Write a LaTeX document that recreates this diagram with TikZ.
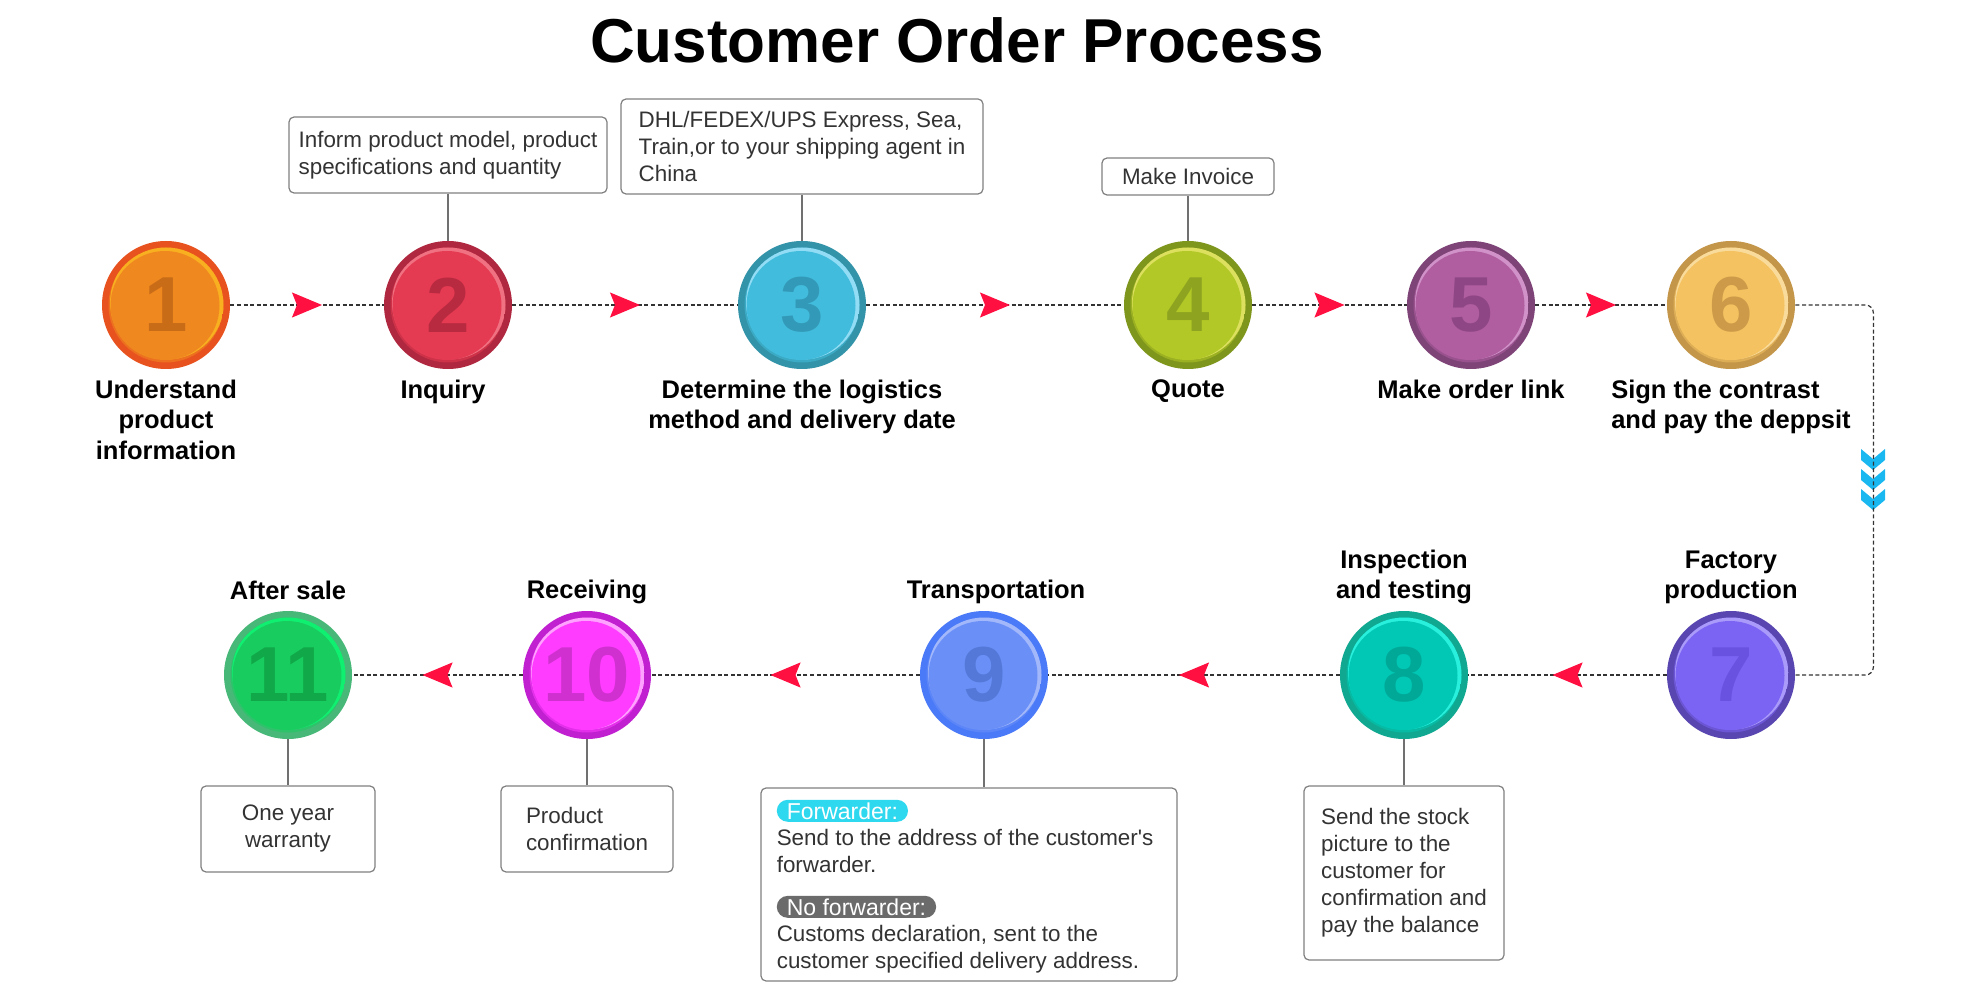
\documentclass[tikz,border=0pt]{standalone}
\usepackage{fontspec}
\setmainfont{Liberation Sans}
\usepackage{xcolor}
\usetikzlibrary{positioning}
\usetikzlibrary{arrows.meta}
\usetikzlibrary{decorations.markings}

% badge colours: ring, fill, highlight, number
\definecolor{ring1}{HTML}{E8521E}\definecolor{fill1}{HTML}{F08820}\definecolor{hi1}{HTML}{F8B020}\definecolor{num1}{HTML}{C86C18}
\definecolor{ring2}{HTML}{B0283F}\definecolor{fill2}{HTML}{E43A52}\definecolor{hi2}{HTML}{F07282}\definecolor{num2}{HTML}{B82A40}
\definecolor{ring3}{HTML}{3393A8}\definecolor{fill3}{HTML}{42BCDC}\definecolor{hi3}{HTML}{92DDF5}\definecolor{num3}{HTML}{3399B8}
\definecolor{ring4}{HTML}{7E961C}\definecolor{fill4}{HTML}{B2C826}\definecolor{hi4}{HTML}{DCE05E}\definecolor{num4}{HTML}{8EA420}
\definecolor{ring5}{HTML}{7E4478}\definecolor{fill5}{HTML}{B05EA0}\definecolor{hi5}{HTML}{D092C8}\definecolor{num5}{HTML}{8E4684}
\definecolor{ring6}{HTML}{C4964A}\definecolor{fill6}{HTML}{F4C260}\definecolor{hi6}{HTML}{F9DC9C}\definecolor{num6}{HTML}{CC9A48}
\definecolor{ring7}{HTML}{5A46B0}\definecolor{fill7}{HTML}{7B64F4}\definecolor{hi7}{HTML}{AA9AFA}\definecolor{num7}{HTML}{6A52E0}
\definecolor{ring8}{HTML}{10A890}\definecolor{fill8}{HTML}{00C8B4}\definecolor{hi8}{HTML}{28F0DC}\definecolor{num8}{HTML}{00A898}
\definecolor{ring9}{HTML}{4A7AF8}\definecolor{fill9}{HTML}{6A90F8}\definecolor{hi9}{HTML}{A2B8FA}\definecolor{num9}{HTML}{5478D8}
\definecolor{ring10}{HTML}{C020D0}\definecolor{fill10}{HTML}{FF3CFF}\definecolor{hi10}{HTML}{FFA2FF}\definecolor{num10}{HTML}{D030D0}
\definecolor{ring11}{HTML}{48B878}\definecolor{fill11}{HTML}{18CC60}\definecolor{hi11}{HTML}{10F070}\definecolor{num11}{HTML}{10A848}

\definecolor{arrowred}{HTML}{FF1040}
\definecolor{flowgray}{HTML}{333333}
\definecolor{linkgray}{HTML}{707070}
\definecolor{boxgray}{HTML}{808080}
\definecolor{notetext}{HTML}{333333}
\definecolor{chevblue}{HTML}{1AB8F0}
\definecolor{fwdcyan}{HTML}{2ED8EE}
\definecolor{pillgray}{HTML}{6B6B6B}

\newcommand{\titlefont}{\fontsize{31pt}{36pt}\selectfont\bfseries}
\newcommand{\lblfont}{\fontsize{12.75pt}{15.2pt}\selectfont\bfseries}
\newcommand{\notefont}{\fontsize{11.2pt}{13.5pt}\selectfont}
\newcommand{\numfont}{\fontsize{39pt}{40pt}\selectfont\bfseries}

\begin{document}
\begin{tikzpicture}[
  x=0.5pt, y=-0.5pt,
  badge/.style={circle, minimum size=64pt, inner sep=0pt},
  lbl/.style={font=\lblfont, align=center, inner sep=1pt},
  note/.style={draw=boxgray, line width=0.6pt, rounded corners=2.5pt, font=\notefont, text=notetext, align=left},
  notetxt/.style={anchor=north west, inner sep=0pt, font=\notefont, text=notetext, align=left},
  pill/.style={anchor=north west, rounded corners=5.5pt, minimum height=11pt, inner xsep=5pt, inner ysep=0pt, font=\fontsize{11.5pt}{13pt}\selectfont, text=white},
  link/.style={draw=linkgray, line width=0.6pt},
  flowline/.style={draw=flowgray, line width=0.6pt, dash pattern=on 2pt off 1.3pt},
  flow/.style={flowline, postaction={decorate}, decoration={markings,
    mark=at position 0.5 with {\arrow[xshift=7.5pt]{Stealth[length=15pt, width=12.5pt, inset=2.5pt, arrowred]}}}}
]
\fill[white] (0,0) rectangle (1983,1000);
\useasboundingbox (0,0) rectangle (1983,1000);

% Title
\node[font=\titlefont] (title) at (957,40) {Customer Order Process};

% Numbered badges
\foreach \n/\x/\y in {1/166/305, 2/448/305, 3/802/305, 4/1188/305, 5/1471/305, 6/1731/305,
                      7/1731/675, 8/1404/675, 9/984/675, 10/587/675, 11/288/675} {
  \node[badge, fill=ring\n] (c\n) at (\x,\y) {};
  \begin{scope}
    \clip (c\n.center) circle (57.5);
    \fill[ring\n!45!fill\n] (c\n.center) circle (57.5);
    \fill[hi\n] ([shift={(1,-2.5)}]c\n.center) circle (57);
    \fill[fill\n] ([shift={(-1,0.5)}]c\n.center) circle (54.5);
  \end{scope}
  \node[font=\numfont, text=num\n, inner sep=0pt] (n\n) at (c\n) {\n};
}

% Step labels
\node[lbl, below=4pt of c1] (l1) {Understand\\product\\information};
\node[lbl, below=4pt of c2, xshift=-2.5pt] (l2) {Inquiry};
\node[lbl, below=4pt of c3] (l3) {Determine the logistics\\method and delivery date};
\node[lbl, below=4pt of c4] (l4) {Quote};
\node[lbl, below=4pt of c5] (l5) {Make order link};
\node[lbl, align=left, below=4pt of c6] (l6) {Sign the contrast\\and pay the deppsit};
\node[lbl, above=2pt of c7] (l7) {Factory\\production};
\node[lbl, above=2pt of c8] (l8) {Inspection\\and testing};
\node[lbl, above=2pt of c9, xshift=6pt] (l9) {Transportation};
\node[lbl, above=2pt of c10] (l10) {Receiving};
\node[lbl, above=4pt of c11] (l11) {After sale};

% Callout boxes
\node[note, minimum width=159pt, minimum height=38pt, above=23.5pt of c2] (b2)
  {Inform product model, product\\specifications and quantity};
\node[note, minimum width=181pt, minimum height=47.5pt, above=23pt of c3] (b3)
  {DHL/FEDEX/UPS Express, Sea,\\Train,or to your shipping agent in\\China};
\node[note, align=center, minimum width=86pt, minimum height=18.5pt, above=22.5pt of c4] (b4) {Make Invoice};
\node[note, align=center, minimum width=87pt, minimum height=43pt, below=23pt of c11] (b11) {One year\\warranty};
\node[note, minimum width=86pt, minimum height=43pt, below=23pt of c10] (b10) {Product\\confirmation};
\node[note, minimum width=100pt, minimum height=87pt, below=23pt of c8] (b8)
  {Send the stock\\picture to the\\customer for\\confirmation and\\pay the balance};
\node[note, minimum width=208pt, minimum height=96.5pt, below=24pt of c9, xshift=-7.5pt] (b9) {};
\node[pill, fill=fwdcyan] (p1) at ([xshift=8pt, yshift=-6pt]b9.north west) {Forwarder:};
\node[notetxt] (t1) at ([yshift=-3.5pt]p1.south west)
  {Send to the address of the customer\textquotesingle s\\forwarder.};
\node[pill, fill=pillgray] (p2) at ([yshift=-11pt]t1.south west) {No forwarder:};
\node[notetxt] (t2) at ([yshift=-3.5pt]p2.south west)
  {Customs declaration, sent to the\\customer specified delivery address.};

% Callout leaders
\draw[link] (b2) -- (c2);
\draw[link] (b3) -- (c3);
\draw[link] (b4) -- (c4);
\draw[link] (c8) -- (b8);
\draw[link] (c9.south) -- (c9.south |- b9.north);
\draw[link] (c10) -- (b10);
\draw[link] (c11) -- (b11);

% Down chevrons on the turn
\foreach \k in {0,1,2}
  \fill[chevblue] (1861,449+20*\k) -- (1873,459+20*\k) -- (1885,449+20*\k)
    -- (1885,460+20*\k) -- (1873,470+20*\k) -- (1861,460+20*\k) -- cycle;

% Flow between steps
\draw[flow] (c1) -- (c2);
\draw[flow] (c2) -- (c3);
\draw[flow] (c3) -- (c4);
\draw[flow] (c4) -- (c5);
\draw[flow] (c5) -- (c6);
\draw[flowline, rounded corners=4pt] (c6.east) -- ([xshift=39pt]c6.east) |- (c7.east);
\draw[flow] (c7) -- (c8);
\draw[flow] (c8) -- (c9);
\draw[flow] (c9) -- (c10);
\draw[flow] (c10) -- (c11);

\end{tikzpicture}
\end{document}
